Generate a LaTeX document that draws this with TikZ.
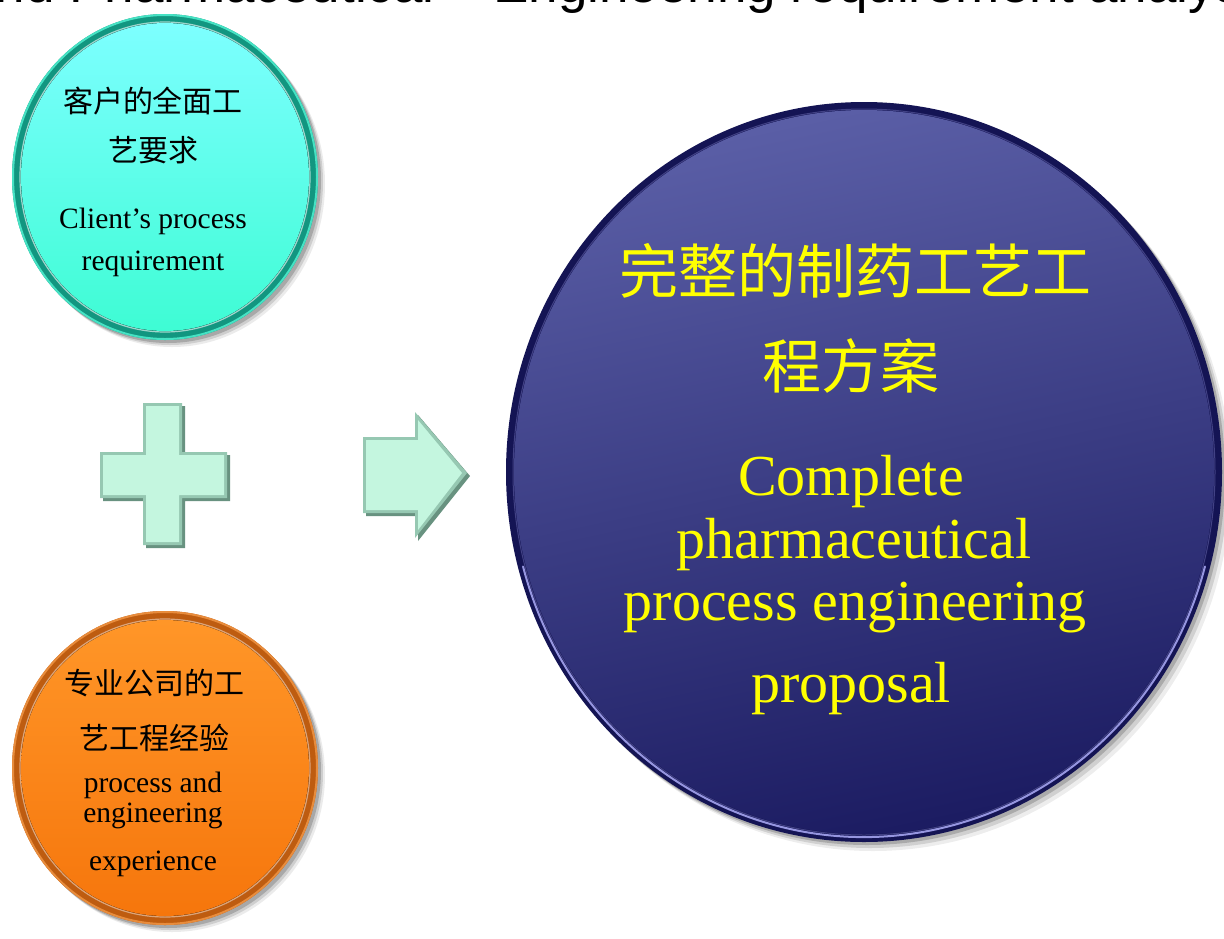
\documentclass[tikz,border=0pt]{standalone}
\usepackage{fontspec}
\setmainfont{Liberation Serif}
\newfontfamily\cjkfont{Noto Sans CJK SC}
\newfontfamily\titlefont{Liberation Sans}
\definecolor{tealtop}{RGB}{125,255,255}
\definecolor{tealbot}{RGB}{62,252,212}
\definecolor{tealrim}{RGB}{18,150,128}
\definecolor{tealedge}{RGB}{70,226,196}
\definecolor{orgtop}{RGB}{255,150,40}
\definecolor{orgbot}{RGB}{246,118,12}
\definecolor{orgrim}{RGB}{190,92,16}
\definecolor{orgedge}{RGB}{232,140,60}
\definecolor{navytop}{RGB}{90,94,166}
\definecolor{navymid}{RGB}{42,42,118}
\definecolor{navybot}{RGB}{28,28,98}
\definecolor{navyrim}{RGB}{20,20,84}
\definecolor{navyhl}{RGB}{150,150,224}
\definecolor{yellowtxt}{RGB}{255,255,0}
\definecolor{mintface}{RGB}{196,246,223}
\definecolor{mintedge}{RGB}{150,200,178}
\definecolor{mintshadow}{RGB}{104,146,128}
\begin{document}
\begin{tikzpicture}[x=1pt,y=-1pt,
  lbl/.style={anchor=base, inner sep=0pt, text=black},
  cjkA/.style={lbl, font=\cjkfont\fontsize{30}{36}\selectfont},
  engA/.style={lbl, font=\fontsize{29.5}{34}\selectfont},
  cjkB/.style={lbl, text=yellowtxt, font=\cjkfont\fontsize{59}{70}\selectfont},
  engB/.style={lbl, text=yellowtxt, font=\fontsize{58}{68}\selectfont},
  mintshade/.style={fill=mintshadow},
  mintborder/.style={fill=mintedge},
  mintinner/.style={fill=mintface}]
\useasboundingbox (0,0) rectangle (1224,938);
\clip (0,0) rectangle (1224,938);
\fill[white] (0,0) rectangle (1224,938);

% clipped title
\node[anchor=base west, inner sep=0pt, font=\titlefont\fontsize{53}{60}\selectfont] (title) at (-34,2) {and Pharmaceutical – Engineering requirement analysis};

% ---------- teal circle ----------
\foreach \o/\op in {7/0.08,5/0.12,3/0.18}
  \fill[black, opacity=\op] (165+\o,177+\o) ellipse [x radius=153pt, y radius=163pt];
\fill[tealrim] (165,177) ellipse [x radius=153pt, y radius=163pt];
\draw[tealedge, line width=2pt] (165,177) ellipse [x radius=152pt, y radius=162pt];
\fill[top color=tealtop, bottom color=tealbot] (165,177) ellipse [x radius=144pt, y radius=154pt];
\draw[white, opacity=.6, line width=1.2pt] (165,177) ellipse [x radius=145pt, y radius=155pt];
\node[cjkA] (c1) at (153,112) {客户的全面工};
\node[cjkA] (c2) at (153,161) {艺要求};
\node[engA] (c3) at (153,228) {Client’s process};
\node[engA] (c4) at (153,270) {requirement};

% ---------- orange circle ----------
\foreach \o/\op in {7/0.08,5/0.12,3/0.18}
  \fill[black, opacity=\op] (165+\o,768+\o) ellipse [x radius=153pt, y radius=157pt];
\fill[orgrim] (165,768) ellipse [x radius=153pt, y radius=157pt];
\draw[orgedge, line width=2pt] (165,768) ellipse [x radius=152pt, y radius=156pt];
\fill[top color=orgtop, bottom color=orgbot] (165,768) ellipse [x radius=144pt, y radius=148pt];
\draw[white, opacity=.45, line width=1.2pt] (165,768) ellipse [x radius=145pt, y radius=149pt];
\node[cjkA] (o1) at (154,694) {专业公司的工};
\node[cjkA] (o2) at (154,749) {艺工程经验};
\node[engA] (o3) at (153,792) {process and};
\node[engA] (o4) at (153,822) {engineering};
\node[engA] (o5) at (153,870) {experience};

% ---------- plus sign ----------
\fill[mintshade] (146,406) -- (185,406) -- (185,455) -- (230,455) -- (230,501) -- (185,501) -- (185,548) -- (146,548) -- (146,501) -- (103,501) -- (103,455) -- (146,455) -- cycle;
\fill[mintborder] (143,403) -- (182,403) -- (182,452) -- (227,452) -- (227,498) -- (182,498) -- (182,545) -- (143,545) -- (143,498) -- (100,498) -- (100,452) -- (143,452) -- cycle;
\fill[mintinner] (146,406) -- (179,406) -- (179,455) -- (224,455) -- (224,495) -- (179,495) -- (179,542) -- (146,542) -- (146,495) -- (103,495) -- (103,455) -- (146,455) -- cycle;

% ---------- block arrow ----------
\fill[mintshade] (366,440) -- (418,440) -- (418,415) -- (470,476) -- (418,541) -- (418,516) -- (366,516) -- cycle;
\fill[mintborder] (363,437) -- (415,437) -- (415,412) -- (467,473) -- (415,538) -- (415,513) -- (363,513) -- cycle;
\fill[mintinner] (366,440) -- (418,440) -- (418,420) -- (462,473) -- (418,530) -- (418,510) -- (366,510) -- cycle;

% ---------- navy circle ----------
\foreach \o/\op in {9/0.07,6/0.12,3/0.18}
  \fill[black, opacity=\op] (864+\o,472+\o) ellipse [x radius=358pt, y radius=370pt];
\fill[navyrim] (864,472) ellipse [x radius=358pt, y radius=370pt];
\shade[top color=navytop, middle color=navymid, bottom color=navybot, shading angle=12] (864,472) ellipse [x radius=350pt, y radius=362pt];
\draw[navyhl, opacity=.35, line width=1pt] (864,472) ellipse [x radius=351pt, y radius=363pt];
\draw[navyhl, line width=2pt, line cap=round] (864,472) ++(195:353pt and 365pt) arc [start angle=195, end angle=345, x radius=353pt, y radius=365pt];
\node[cjkB] (n1) at (855,293) {完整的制药工艺工};
\node[cjkB] (n2) at (851,388) {程方案};
\node[engB] (n3) at (851,495) {Complete};
\node[engB] (n4) at (854,558) {pharmaceutical};
\node[engB] (n5) at (855,620) {process engineering};
\node[engB] (n6) at (851,702) {proposal};
\end{tikzpicture}
\end{document}
